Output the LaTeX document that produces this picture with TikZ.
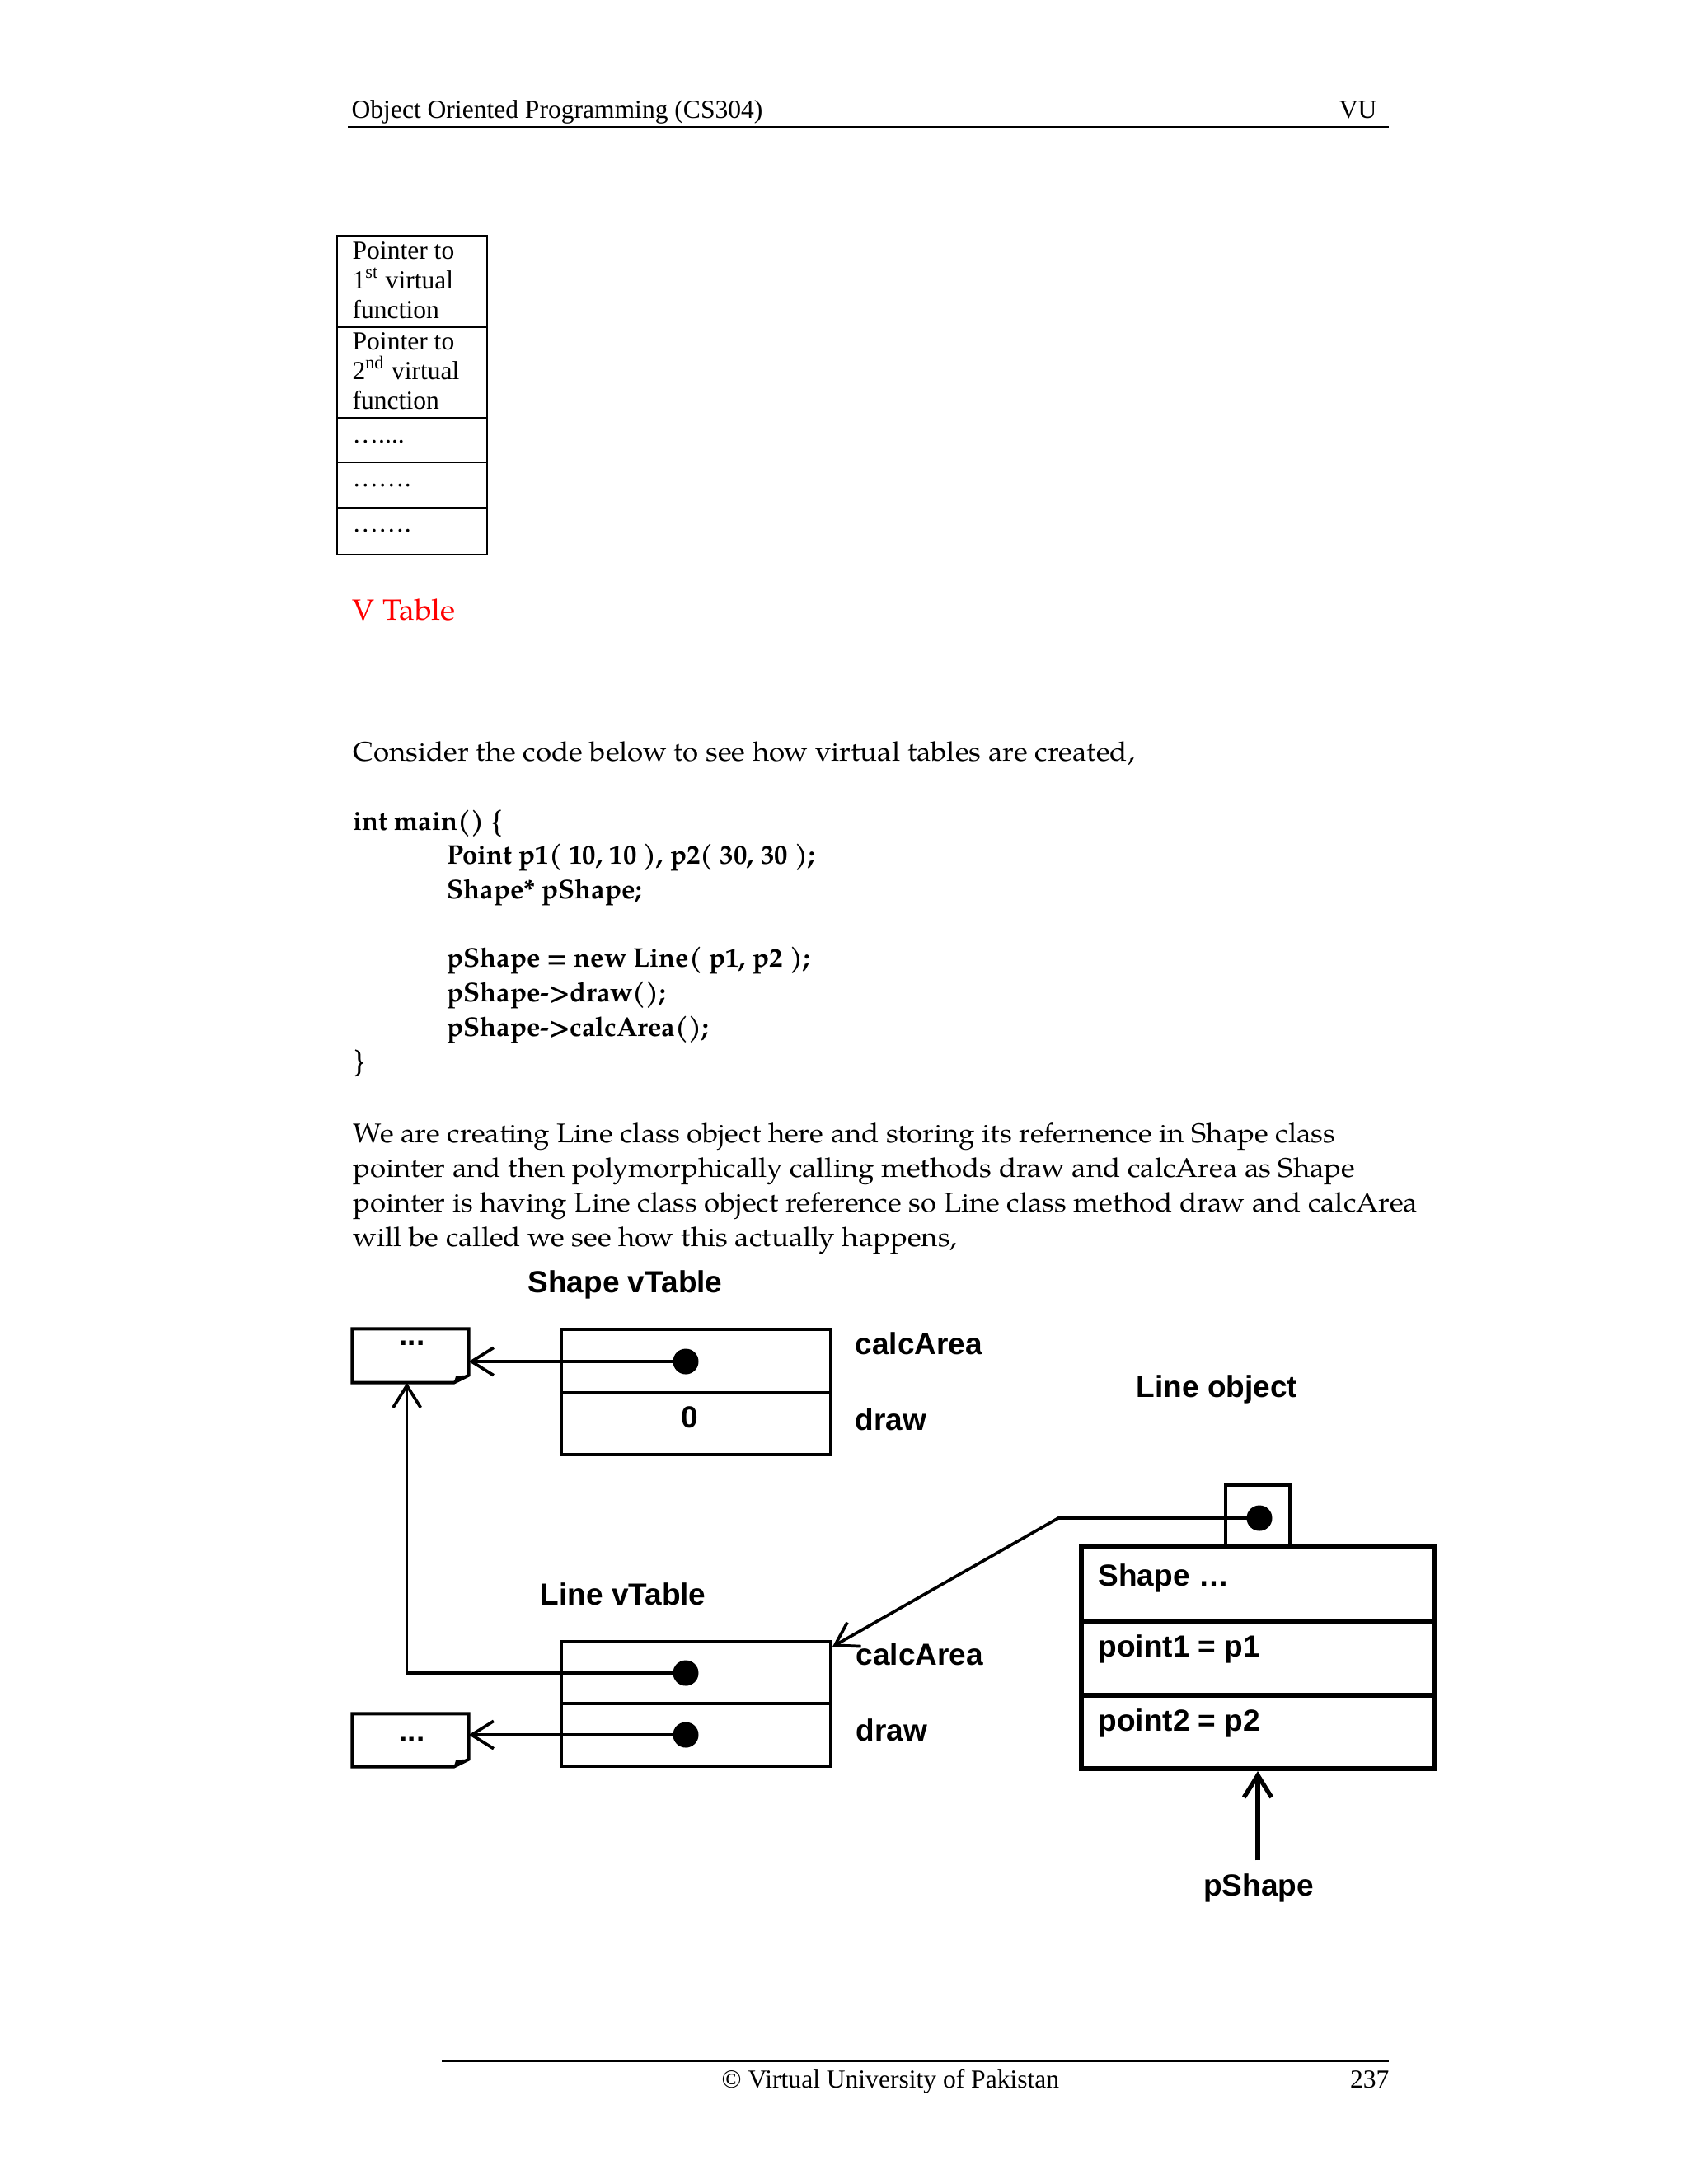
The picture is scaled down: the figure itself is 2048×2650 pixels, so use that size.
\documentclass[tikz,border=0pt]{standalone}
\usepackage{fontspec}
\setmainfont{Liberation Serif}
\newfontfamily\palfont{texgyrepagella}[Extension=.otf,UprightFont=*-regular,BoldFont=*-bold,UprightFeatures={FakeStretch=1.06}]
\newfontfamily\arialfont{Liberation Sans}
\usetikzlibrary{arrows.meta}
\def\pxu{0.29883pt}
\begin{document}
\begin{tikzpicture}[x=0.29883pt, y=-0.29883pt,
  txt/.style={inner sep=0pt, anchor=base west},
  tms/.style={font=\fontsize{9.43}{11}\selectfont},
  bod/.style={font=\palfont\fontsize{9.8}{12}\selectfont},
  cod/.style={font=\palfont\bfseries\fontsize{9.8}{12}\selectfont},
  lab/.style={font=\arialfont\bfseries\fontsize{11.06}{13}\selectfont},
  vcell/.style={draw, line width=0.6pt, minimum width=182*\pxu, inner sep=0pt},
  cell/.style={draw, line width=1.2pt, inner sep=0pt, minimum width=327*\pxu},
  ocell/.style={draw, line width=1.8pt, inner sep=0pt, minimum width=428*\pxu},
  dot/.style={circle, fill=black, inner sep=0pt, minimum size=31*\pxu},
  ptr/.style={line width=1.1pt, -{Straight Barb[length=8pt, width=10pt]}},
  rule/.style={line width=0.8pt}
]
\fill[white] (0,0) rectangle (2048,2650);
\useasboundingbox (0,0) rectangle (2048,2650);

% header
\node[txt,tms] (hd) at (426,143) {Object Oriented Programming (CS304)};
\node[tms, inner sep=0pt, anchor=base east] (vu) at (1671,143) {VU};
\coordinate (hr1) at (422,154);
\coordinate (hr2) at (1685,154);
\draw[rule] (hr1) -- (hr2);

% V table
\node[vcell, minimum height=111*\pxu] (t1) at (500,341.5) {};
\node[vcell, minimum height=110*\pxu] (t2) at (500,452) {};
\node[vcell, minimum height=54*\pxu] (t3) at (500,534) {};
\node[vcell, minimum height=55*\pxu] (t4) at (500,588.5) {};
\node[vcell, minimum height=57*\pxu] (t5) at (500,644.5) {};
\node[txt,tms] (t1a) at (427,314) {Pointer to};
\node[txt,tms] (t1b) at (427,350) {1\textsuperscript{st} virtual};
\node[txt,tms] (t1c) at (427,386) {function};
\node[txt,tms] (t2a) at (427,424) {Pointer to};
\node[txt,tms] (t2b) at (427,460) {2\textsuperscript{nd} virtual};
\node[txt,tms] (t2c) at (427,496) {function};
\node[txt,tms] (t3a) at (427,537) {…....};
\node[txt,tms] (t4a) at (427,590) {…….};
\node[txt,tms] (t5a) at (427,645) {…….};
\node[txt, font=\palfont\fontsize{10.6}{13}\selectfont, text=red] (vt) at (427,752) {V Table};

% body text
\node[txt,bod] (c0) at (428,923) {Consider the code below to see how virtual tables are created,};
\node[txt,cod] (c1) at (428,1007) {int main() \{};
\node[txt,cod] (c2) at (542,1048) {Point p1( 10, 10 ), p2( 30, 30 );};
\node[txt,cod] (c3) at (542,1090) {Shape* pShape;};
\node[txt,cod] (c4) at (542,1173) {pShape = new Line( p1, p2 );};
\node[txt,cod] (c5) at (542,1215) {pShape->draw();};
\node[txt,cod] (c6) at (542,1257) {pShape->calcArea();};
\node[txt,cod] (c7) at (428,1298) {\}};
\node[txt,bod] (p1) at (428,1386) {We are creating Line class object here and storing its refernence in Shape class};
\node[txt,bod] (p2) at (428,1428) {pointer and then polymorphically calling methods draw and calcArea as Shape};
\node[txt,bod] (p3) at (428,1470) {pointer is having Line class object reference so Line class method draw and calcArea};
\node[txt,bod] (p4) at (428,1512) {will be called we see how this actually happens,};

% diagram: Shape vTable
\node[txt,lab] (svt) at (640,1568) {Shape vTable};
\node[cell, minimum height=77*\pxu] (sv1) at (844.5,1651.5) {};
\node[cell, minimum height=75*\pxu] (sv2) at (844.5,1727.5) {};
\node[lab, inner sep=0pt, anchor=base] (zero) at (837,1732) {0};
\node[txt,lab] (sca) at (1037,1643) {calcArea};
\node[txt,lab] (sdr) at (1037,1735) {draw};
\node[txt,lab] (lobj) at (1378,1695) {Line object};

% upper small box
\node[inner sep=0pt, minimum width=140*\pxu, minimum height=64*\pxu] (ub) at (498,1645) {};
\draw[line width=1.2pt] (ub.north west) -- (ub.north east) -- ([yshift=2.7pt]ub.south east) -- ([xshift=-5.4pt]ub.south east) -- (ub.south west) -- cycle;
\fill ([yshift=2.7pt]ub.south east) -- ([xshift=-5.4pt]ub.south east) -- ([xshift=-4.6pt,yshift=2.5pt]ub.south east) -- cycle;
\node[lab, inner sep=0pt, anchor=base] (ubt) at (500,1632) {...};
\coordinate (ubs) at ([xshift=-1.3pt]ub.south);

% Line vTable
\node[txt,lab] (lvt) at (655,1947) {Line vTable};
\node[cell, minimum height=75*\pxu] (lv1) at (844.5,2029.5) {};
\node[cell, minimum height=76*\pxu] (lv2) at (844.5,2105) {};
\node[txt,lab] (lca) at (1038,2020) {calcArea};
\node[txt,lab] (ldr) at (1038,2112) {draw};

% lower small box
\node[inner sep=0pt, minimum width=140*\pxu, minimum height=63*\pxu] (lb) at (498,2111.5) {};
\draw[line width=1.2pt] (lb.north west) -- (lb.north east) -- ([yshift=2.7pt]lb.south east) -- ([xshift=-5.4pt]lb.south east) -- (lb.south west) -- cycle;
\fill ([yshift=2.7pt]lb.south east) -- ([xshift=-5.4pt]lb.south east) -- ([xshift=-4.6pt,yshift=2.5pt]lb.south east) -- cycle;
\node[lab, inner sep=0pt, anchor=base] (lbt) at (500,2113) {...};

% Line object
\node[draw, line width=1.2pt, inner sep=0pt, minimum width=78*\pxu, minimum height=75*\pxu] (sb) at (1526,1839.5) {};
\node[ocell, minimum height=90*\pxu] (lo1) at (1526,1922) {};
\node[ocell, minimum height=90*\pxu] (lo2) at (1526,2012) {};
\node[ocell, minimum height=89*\pxu] (lo3) at (1526,2101.5) {};
\node[txt,lab] (o1) at (1332,1924) {Shape …};
\node[txt,lab] (o2) at (1332,2010) {point1 = p1};
\node[txt,lab] (o3) at (1332,2100) {point2 = p2};
\node[lab, inner sep=0pt, anchor=base] (ps) at (1527,2300) {pShape};
\coordinate (elb) at (1284,1842);
\coordinate (lvtip) at ([yshift=-2.4pt]lv1.north east);
\coordinate (pstail) at ([yshift=4.5pt]ps.north -| lo3.south);

% dots
\node[dot] (d1) at (832,1652) {};
\node[dot] (d3) at (832,2030) {};
\node[dot] (d4) at (832,2105) {};
\node[dot] (d5) at (1528,1842) {};

% connectors
\draw[ptr] (d1.center) -- (d1.center -| ub.east);
\draw[ptr] (d4.center) -- (d4.center -| lb.east);
\draw[ptr] (d3.center) -- (d3.center -| ubs) -- (ubs);
\draw[ptr] (d5.center) -- (elb) -- (lvtip);
\draw[ptr, line width=1.6pt] (pstail) -- (lo3.south);

% footer
\coordinate (fr1) at (536,2501);
\coordinate (fr2) at (1685,2501);
\draw[rule] (fr1) -- (fr2);
\node[txt,tms] (ft) at (875,2533) {© Virtual University of Pakistan};
\node[tms, inner sep=0pt, anchor=base east] (pg) at (1686,2533) {237};
\end{tikzpicture}
\end{document}
